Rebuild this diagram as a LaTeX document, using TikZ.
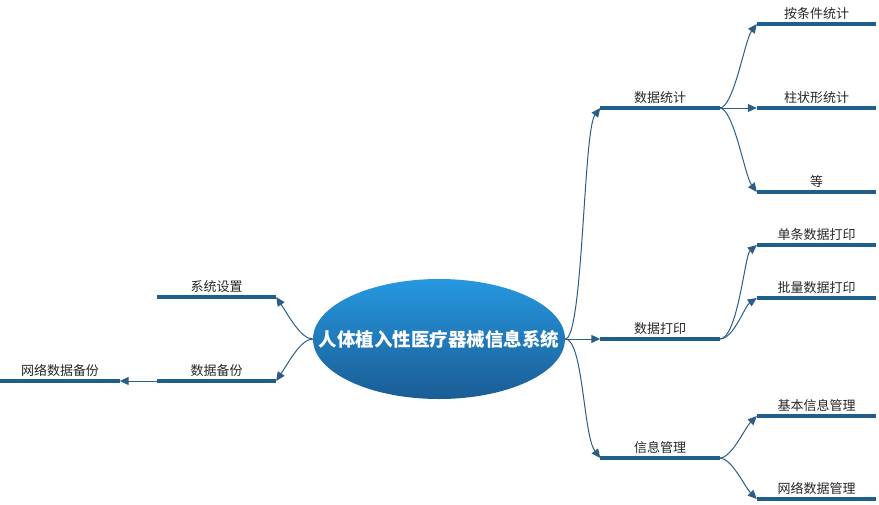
\documentclass[tikz,border=0pt]{standalone}
\usepackage{fontspec}
\newfontfamily\cjk{Noto Sans CJK SC}
\usetikzlibrary{shapes.geometric,arrows.meta}
\definecolor{barblue}{HTML}{1F5F8C}
\definecolor{linkblue}{HTML}{2B5D86}
\definecolor{rootTop}{HTML}{2698E0}
\definecolor{rootBot}{HTML}{1A5C94}
\begin{document}
\begin{tikzpicture}[x=1pt,y=-1pt,
    topic/.style={minimum width=119pt,minimum height=20pt,inner sep=0pt,anchor=south,
      font=\cjk\fontsize{13}{15}\selectfont,text=black!85},
    bar/.style={line width=4pt,draw=barblue},
    link/.style={draw=linkblue,line width=1pt,-{Triangle[length=9pt,width=8pt]}}]
                \useasboundingbox (0,0) rectangle (879,504);
                \path (439,339) node[ellipse,minimum width=252pt,minimum height=120pt,
                  inner xsep=-33pt,inner ysep=0pt,
                  top color=rootTop,bottom color=rootBot,text=white,
                  font=\cjk\bfseries\fontsize{18.5}{22}\selectfont] (root) {人体植入性医疗器械信息系统};

                % right side
                \path (660,108) node[topic] (tj) {数据统计};
                \path (660,339) node[topic] (dy) {数据打印};
                \path (660,458) node[topic] (xx) {信息管理};
                \path (816.5,24) node[topic] (tj1) {按条件统计};
                \path (816.5,108) node[topic] (tj2) {柱状形统计};
                \path (816.5,192) node[topic] (tj3) {等};
                \path (816.5,245) node[topic] (dy1) {单条数据打印};
                \path (816.5,298) node[topic] (dy2) {批量数据打印};
                \path (816.5,416) node[topic] (xx1) {基本信息管理};
                \path (816.5,499) node[topic] (xx2) {网络数据管理};

                % left side
                \path (216.5,297) node[topic] (sz) {系统设置};
                \path (216.5,381) node[topic] (bf) {数据备份};
                \path (60,381) node[topic] (bf1) {网络数据备份};

                \foreach \n in {tj,dy,xx,tj1,tj2,tj3,dy1,dy2,xx1,xx2,sz,bf,bf1}
                  \draw[bar] (\n.south west) -- (\n.south east);

                \begin{scope}[every path/.append style={link}]
                  \draw (root.east) .. controls +(18,0) and +(-17,22) .. (tj.south west);
                  \draw (root.east) -- (dy.south west);
                  \draw (root.east) .. controls +(18,0) and +(-17,-22) .. (xx.south west);
                  \draw (tj.south east) .. controls +(14,0) and +(-12,16) .. (tj1.south west);
                  \draw (tj.south east) -- (tj2.south west);
                  \draw (tj.south east) .. controls +(14,0) and +(-12,-16) .. (tj3.south west);
                  \draw (dy.south east) .. controls +(18,0) and +(-12,10) .. (dy1.south west);
                  \draw (dy.south east) .. controls +(14,0) and +(-12,8) .. (dy2.south west);
                  \draw (xx.south east) .. controls +(12,0) and +(-12,12) .. (xx1.south west);
                  \draw (xx.south east) .. controls +(12,0) and +(-12,-12) .. (xx2.south west);
                  \draw (root.west) .. controls +(-12,0) and +(12,18) .. (sz.south east);
                  \draw (root.west) .. controls +(-12,0) and +(12,-18) .. (bf.south east);
                  \draw (bf.south west) -- (bf1.south east);
                \end{scope}
              \end{tikzpicture}
\end{document}
